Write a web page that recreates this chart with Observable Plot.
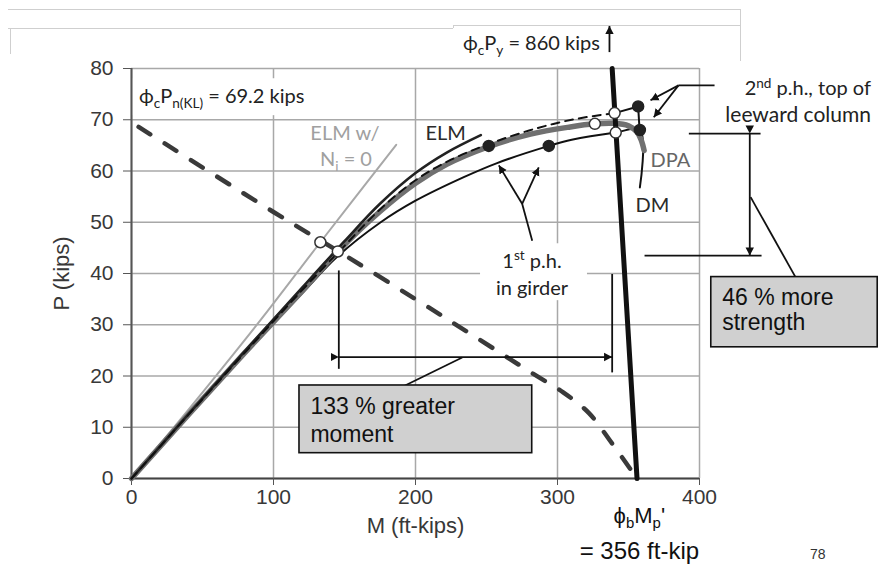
<!DOCTYPE html>
<html><head><meta charset="utf-8">
<script src="https://cdn.jsdelivr.net/npm/d3@7"></script>
<script src="https://cdn.jsdelivr.net/npm/@observablehq/plot@0.6"></script>
<style>
body{margin:0;background:#fff;}
#wrap{position:relative;width:879px;height:567px;overflow:hidden;background:#fff;}
.deco{position:absolute;background:#cfcfcf;}
#pg{position:absolute;left:810px;top:546px;font:14px "Liberation Sans",Arial,sans-serif;color:#333;}
</style></head><body><div id="wrap">
<div class="deco" style="left:8px;top:9px;width:732px;height:1px"></div>
<div class="deco" style="left:8px;top:28px;width:445px;height:1px"></div>
<div class="deco" style="left:453px;top:25px;width:287px;height:1px"></div>
<div class="deco" style="left:453px;top:25px;width:1px;height:3px"></div>
<div class="deco" style="left:740px;top:9px;width:1px;height:52px"></div>
<div class="deco" style="left:10px;top:28px;width:1px;height:26px"></div>
<div id="pg">78</div>
</div>
<script>
// ---------- data (M in ft-kips, P in kips) ----------
const xTicks = [0, 100, 200, 300, 400];
const yTicks = [0, 10, 20, 30, 40, 50, 60, 70, 80];

// ELM with Ni = 0 (light gray)
const elmNi0M = [0, 30, 90, 133, 186.4];
const elmNi0P = [0, 10, 30.6, 46.1, 65.1];
// ELM
const elmM = [0, 40, 80, 120, 150, 175, 200, 222, 246];
const elmP = [0, 12.5, 24.9, 37.2, 46.3, 53.6, 59.6, 63.6, 67];
// DPA (thick gray)
const dpaM = [0, 40, 80, 120, 145, 175, 200, 222, 250, 281, 309, 326, 340, 350, 356, 359, 361];
const dpaP = [0, 12.4, 24.6, 36.5, 44.2, 52.1, 57.6, 61.3, 64.6, 67.2, 68.6, 69.2, 69.3, 68.8, 67.6, 66, 64];
// thin dashed analysis curve
const dashM = [0, 40, 80, 120, 150, 175, 200, 225, 252, 280, 310, 340.2];
const dashP = [0, 12.4, 24.6, 36.7, 45.4, 52.5, 58.2, 62.2, 65.3, 67.9, 70, 71.3];
// its end: 2nd plastic hinge
const dashEndM = [340.2, 356.8, 357.8];
const dashEndP = [71.3, 72.6, 68];
// DM
const dmM = [0, 40, 80, 120, 145, 175, 200, 234, 257, 294, 310, 341, 358, 358];
const dmP = [0, 12.4, 24.5, 36.1, 43.3, 49.9, 54.2, 58.8, 61.5, 64.9, 66.1, 67.5, 68, 56.8];
// phi_c P_n(KL) interaction (thick dashed)
const pnM = [5, 100, 150, 200, 240, 283, 304, 322, 338.5, 356];
const pnP = [68.6, 52.0, 43.6, 35, 28, 20.4, 16.8, 12.8, 6.8, 0];
// phi_b M_p' interaction (thick solid)
const mpM = [338.5, 356];
const mpP = [80, 0];
// markers
const openM = [133, 145.3, 326.3, 340.2, 341];
const openP = [46.1, 44.3, 69.2, 71.3, 67.5];
const fillM = [251.6, 293.9, 356.8, 358];
const fillP = [64.9, 64.9, 72.6, 68];

// annotation geometry in data units
const plainLinks = [
  {x1: 282.2, y1: 46.4, x2: 275.1, y2: 53.6},
  {x1: 410.6, y1: 76.7, x2: 385.2, y2: 76.7},
  {x1: 392.5, y1: 67.3, x2: 443, y2: 67.3},
  {x1: 361.3, y1: 43.5, x2: 443.7, y2: 43.5},
  {x1: 436, y1: 54.9, x2: 467.6, y2: 39.3},
  {x1: 146, y1: 40.6, x2: 146, y2: 21.4},
  {x1: 338.5, y1: 39.9, x2: 338.5, y2: 20.7},
  {x1: 232.9, y1: 23.6, x2: 192.3, y2: 18.1}
];
const arrowLinks = [
  {x1: 336.6, y1: 83.2, x2: 336.6, y2: 88.3},
  {x1: 275.1, y1: 53.6, x2: 258.7, y2: 61.1},
  {x1: 275.1, y1: 53.6, x2: 286.8, y2: 60.7},
  {x1: 385.2, y1: 76.7, x2: 365.5, y2: 73.8},
  {x1: 385.2, y1: 76.7, x2: 367.8, y2: 70.5}
];
const doubleLinks = [
  {x1: 435.4, y1: 67.3, x2: 435.4, y2: 43.5},
  {x1: 146, y1: 23.7, x2: 338.5, y2: 23.7}
];
const boxes = [
  {x1: 118.3, x2: 282.2, y1: 4.94, y2: 18.15},
  {x1: 408.3, x2: 525.5, y1: 25.6, y2: 39.3}
];
const whiteBoxes = [
  {x1: 245.8, x2: 321.1, y1: 34.7, y2: 45.8},
  {x1: 1, x2: 122.5, y1: 70.8, y2: 78}
];
const boxTexts = [
  {M: 126, P: 12.6, t: "133 % greater"},
  {M: 126, P: 7.1, t: "moment"},
  {M: 416, P: 33.8, t: "46 % more"},
  {M: 416, P: 28.9, t: "strength"}
];
const curveLabels = [
  {M: 207, P: 66.1, t: "ELM", c: "#2a2a2a"},
  {M: 365.5, P: 60.7, t: "DPA", c: "#666"},
  {M: 354.9, P: 52, t: "DM", c: "#2a2a2a"}
];

const zip = (M, P) => M.map((m, i) => ({M: m, P: P[i]}));
const calibri = "Lato, 'Open Sans', 'DejaVu Sans', sans-serif";
const arial = "'Liberation Sans', Arial, sans-serif";

const chart = Plot.plot({
  width: 879, height: 567,
  marginLeft: 131, marginRight: 180, marginTop: 68, marginBottom: 89,
  x: {domain: [0, 400]},
  y: {domain: [0, 80]},
  style: {fontFamily: arial, fontSize: "21px", color: "#333", background: "transparent", overflow: "visible"},
  marks: [
    Plot.gridX(xTicks, {stroke: "#a8a8a8", strokeOpacity: 1, strokeWidth: 1.5}),
    Plot.gridY(yTicks, {stroke: "#a8a8a8", strokeOpacity: 1, strokeWidth: 1.5}),
    Plot.rect(whiteBoxes, {x1: "x1", x2: "x2", y1: "y1", y2: "y2", fill: "#fff"}),
    Plot.ruleX([0], {stroke: "#555", strokeWidth: 2}),
    Plot.ruleY([0], {stroke: "#444", strokeWidth: 2}),
    Plot.axisX({ticks: xTicks, tickSize: 7, tickPadding: 4, stroke: "#555", fontSize: 21, fill: "#383838", label: null}),
    Plot.axisX({ticks: [], label: "M (ft-kips)", labelAnchor: "center", labelOffset: 54, labelArrow: "none", fontSize: 22, fill: "#383838"}),
    Plot.axisY({ticks: yTicks, tickSize: 8, tickPadding: 10, stroke: "#555", fontSize: 21, fill: "#383838", label: null}),
    Plot.axisY({ticks: [], label: "P (kips)", labelAnchor: "center", labelOffset: 78, labelArrow: "none", fontSize: 22, fill: "#383838"}),
    Plot.line(zip(pnM, pnP), {x: "M", y: "P", stroke: "#3a3a3a", strokeWidth: 4.5, strokeDasharray: "14,17", strokeLinecap: "round", curve: "catmull-rom"}),
    Plot.line(zip(elmNi0M, elmNi0P), {x: "M", y: "P", stroke: "#a8a8a8", strokeWidth: 2, curve: "catmull-rom"}),
    Plot.line(zip(dmM, dmP), {x: "M", y: "P", stroke: "#111", strokeWidth: 2, curve: "catmull-rom"}),
    Plot.line(zip(dpaM, dpaP), {x: "M", y: "P", stroke: "#707070", strokeWidth: 5.5, curve: "catmull-rom"}),
    Plot.line(zip(elmM, elmP), {x: "M", y: "P", stroke: "#222", strokeWidth: 2.6, curve: "catmull-rom"}),
    Plot.line(zip(dashM, dashP), {x: "M", y: "P", stroke: "#111", strokeWidth: 2, strokeDasharray: "8,6", curve: "catmull-rom"}),
    Plot.line(zip(dashEndM, dashEndP), {x: "M", y: "P", stroke: "#111", strokeWidth: 2}),
    Plot.line(zip(mpM, mpP), {x: "M", y: "P", stroke: "#111", strokeWidth: 5}),
    Plot.dot(zip(fillM, fillP), {x: "M", y: "P", r: 5.5, fill: "#222", stroke: "#222"}),
    Plot.dot(zip(openM, openP), {x: "M", y: "P", r: 5.5, fill: "#fff", stroke: "#333", strokeWidth: 1.5}),
    Plot.link(plainLinks, {x1: "x1", y1: "y1", x2: "x2", y2: "y2", stroke: "#111", strokeWidth: 1.8}),
    Plot.link(arrowLinks, {x1: "x1", y1: "y1", x2: "x2", y2: "y2", stroke: "#111", strokeWidth: 1.8, markerEnd: "arrow"}),
    Plot.link(doubleLinks, {x1: "x1", y1: "y1", x2: "x2", y2: "y2", stroke: "#111", strokeWidth: 1.8, markerStart: "arrow", markerEnd: "arrow"}),
    Plot.rect(boxes, {x1: "x1", x2: "x2", y1: "y1", y2: "y2", fill: "#d0d0d0", stroke: "#111", strokeWidth: 1.6}),
    Plot.text(boxTexts, {x: "M", y: "P", text: "t", textAnchor: "start", lineAnchor: "bottom", fontSize: 23, fill: "#111", fontFamily: arial}),
    Plot.text(curveLabels, {x: "M", y: "P", text: "t", textAnchor: "start", lineAnchor: "bottom", fontSize: 20, fill: "c", fontFamily: calibri})
  ]
});

document.getElementById("wrap").appendChild(chart);
chart.style.position = "absolute";
chart.style.left = "0px";
chart.style.top = "0px";

// filled arrow heads
d3.select(chart).selectAll("marker").each(function () {
  const m = d3.select(this);
  const col = m.attr("stroke") || "#111";
  m.attr("markerWidth", 9).attr("markerHeight", 9).attr("fill", col).attr("stroke", "none");
  m.select("path").attr("d", "M-5,-2.6L0,0L-5,2.6Z");
});

// rich text labels (sub/superscripts) placed through the plot's scales
const sx = chart.scale("x"), sy = chart.scale("y");
const richLabels = [
  {M: 5.6, P: 73.2, anchor: "start", size: 20, color: "#222", font: calibri,
   parts: [["ϕ", ""], ["c", "sub"], ["P", ""], ["n(KL)", "sub"], [" = 69.2 kips", ""]]},
  {M: 233.8, P: 83.5, anchor: "start", size: 20, color: "#222", font: calibri,
   parts: [["ϕ", ""], ["c", "sub"], ["P", ""], ["y", "sub"], [" = 860 kips", ""]]},
  {M: 150.7, P: 66, anchor: "middle", size: 20, color: "#a0a0a0", font: calibri,
   parts: [["ELM w/", ""]]},
  {M: 151.4, P: 60.9, anchor: "middle", size: 20, color: "#a0a0a0", font: calibri,
   parts: [["N", ""], ["i", "sub"], [" = 0", ""]]},
  {M: 282.4, P: 41, anchor: "middle", size: 20, color: "#222", font: calibri,
   parts: [["1", ""], ["st", "sup"], [" p.h.", ""]]},
  {M: 282.4, P: 35.7, anchor: "middle", size: 20, color: "#222", font: calibri,
   parts: [["in girder", ""]]},
  {M: 521.1, P: 74.7, anchor: "end", size: 20, color: "#222", font: calibri,
   parts: [["2", ""], ["nd", "sup"], [" p.h., top of", ""]]},
  {M: 521.1, P: 69.5, anchor: "end", size: 21, color: "#222", font: calibri,
   parts: [["leeward column", ""]]},
  {M: 358, P: -8.7, anchor: "middle", size: 22, color: "#111", font: arial,
   parts: [["ϕ", ""], ["b", "sub"], ["M", ""], ["p", "sub"], ["'", ""]]},
  {M: 358, P: -15.9, anchor: "middle", size: 24, color: "#111", font: arial,
   parts: [["= 356 ft-kip", ""]]}
];
const g = d3.select(chart).append("g");
for (const L of richLabels) {
  const t = g.append("text")
    .attr("x", sx.apply(L.M)).attr("y", sy.apply(L.P))
    .attr("text-anchor", L.anchor).attr("font-size", L.size)
    .attr("fill", L.color).attr("font-family", L.font);
  let off = 0;
  for (const [s, kind] of L.parts) {
    const target = kind === "sub" ? L.size * 0.26 : kind === "sup" ? -L.size * 0.38 : 0;
    const ts = t.append("tspan").text(s).attr("dy", target - off);
    if (kind) ts.attr("font-size", L.size * 0.68);
    off = target;
  }
}
</script>
</body></html>
